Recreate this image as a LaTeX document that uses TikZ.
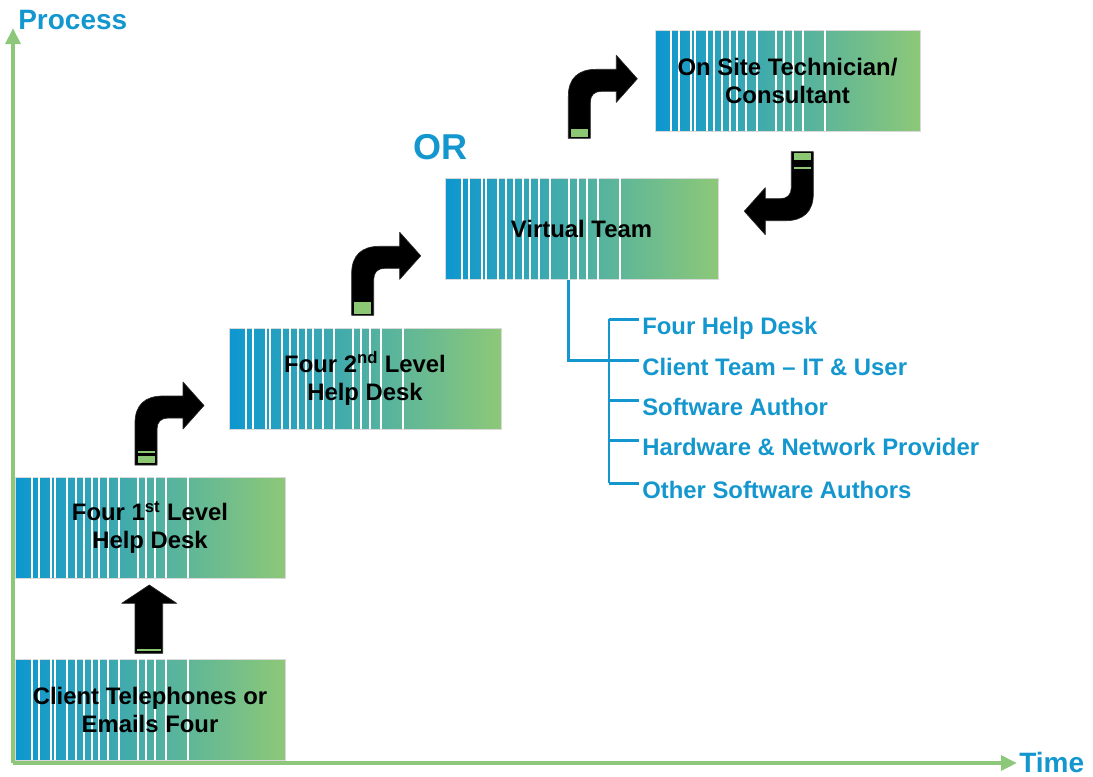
\documentclass[tikz,border=0pt]{standalone}
\usepackage{fontspec}
\setmainfont{Liberation Sans}
\usetikzlibrary{calc,arrows.meta}
\definecolor{cblue}{HTML}{1497CE}
\definecolor{bleft}{HTML}{0D97D0}
\definecolor{bright}{HTML}{8DC878}
\definecolor{axisgreen}{HTML}{8DC87A}
\definecolor{agreen}{HTML}{8CC873}
\tikzset{
  stepbox/.style={rectangle, inner sep=0pt, minimum width=#1*0.75pt, minimum height=75.75pt,
    left color=bleft, right color=bright, draw=gray!30, line width=0.4pt},
  gapline/.style={white, line width=1.5pt},
  boxtext/.style={font=\bfseries\fontsize{17.9}{21}\selectfont, align=center, text=black},
  listtext/.style={font=\bfseries\fontsize{17.9}{21}\selectfont, text=cblue, inner sep=0pt},
  axislabel/.style={font=\bfseries\fontsize{21}{25}\selectfont, text=cblue, inner sep=0pt},
  axisline/.style={axisgreen, line width=2.8pt, -{Triangle[length=12pt,width=11pt]}},
  tree/.style={cblue, line width=2.2pt},
  arrowfill/.style={fill=black, draw=black!85, line width=0.5pt, line join=round},
  greenmark/.style={fill=agreen},
  pics/bentarrow/.style={code={
    \filldraw[arrowfill] (0,0) -- (0,-42) .. controls (0,-60) and (10,-69) .. (28,-69)
      -- (48,-69) -- (48,-83) -- (69,-59.5) -- (48,-36) -- (48,-47) -- (33,-47)
      .. controls (26,-47) and (22,-43) .. (22,-36) -- (22,0) -- cycle;
  }}
}
\begin{document}
\begin{tikzpicture}[x=0.75pt,y=-0.75pt]
\useasboundingbox (0,0) rectangle (1093,776);

% axes
\coordinate (O) at (13,763);
\coordinate (ytop) at (13,28);
\node[axislabel, anchor=west] (proc) at (18,20) {Process};
\node[axislabel, anchor=west] (time) at (1019,762) {Time};
\draw[axisline] (O) -- (ytop);
\draw[axisline] (O) -- ([xshift=-1.5pt]time.west |- O);

% boxes
\node[stepbox=270] (b0) at (150,709.5) {};
\node[stepbox=270] (b1) at (150,527.5) {};
\node[stepbox=272] (b2) at (365,378.5) {};
\node[stepbox=273] (b3) at (581.5,229) {};
\node[stepbox=265] (b4) at (787.5,80.5) {};
\foreach \b in {b0,b1,b2,b3,b4}{
  \foreach \f in {0.062,0.09,0.135,0.15,0.195,0.225,0.255,0.285,0.31,0.345,0.385,0.455,0.487,0.52,0.56,0.64}{
    \draw[gapline] ($(\b.south west)!\f!(\b.south east)$) -- ($(\b.north west)!\f!(\b.north east)$);
  }
}
\node[boxtext] (t0) at (b0) {Client Telephones or\\Emails Four};
\node[boxtext] (t1) at (b1) {Four 1\textsuperscript{st} Level\\Help Desk};
\node[boxtext] (t2) at (b2) {Four 2\textsuperscript{nd} Level\\Help Desk};
\node[boxtext] (t3) at (b3) {Virtual Team};
\node[boxtext] (t4) at (b4) {On Site Technician/\\Consultant};

\node[font=\bfseries\fontsize{27}{30}\selectfont, text=cblue, inner sep=0pt] (or) at (440,147) {OR};

% straight arrow
\filldraw[arrowfill] (135,653.3) -- (135,603.3) -- (121.7,603.3) -- (149.3,585) -- (176.7,603.3)
  -- (162.7,603.3) -- (162.7,653.3) -- cycle;
\fill[greenmark] (137,649) rectangle (161,651.3);

% bent arrows
\begin{scope}[shift={(135,465)}]
  \pic {bentarrow};
  \fill[greenmark] (2.5,-14.5) rectangle (19.5,-12.3);
  \fill[greenmark] (2.5,-9.5) rectangle (19.5,-2.3);
\end{scope}
\begin{scope}[shift={(351.7,315.3)}]
  \pic {bentarrow};
  \fill[greenmark] (2.5,-13.3) rectangle (19.5,-1.5);
\end{scope}
\begin{scope}[shift={(568.3,138.3)}]
  \pic {bentarrow};
  \fill[greenmark] (2.5,-9.3) rectangle (19.5,-1.5);
\end{scope}
\begin{scope}[shift={(813.3,151.7)}, rotate=180]
  \pic[transform shape] {bentarrow};
  \fill[greenmark] (2.5,-8.3) rectangle (19.5,-1.2);
  \fill[greenmark] (2.5,-17.6) rectangle (19.5,-15.4);
\end{scope}

% virtual team members
\node[listtext, anchor=base west] (l1) at (642,334.3) {Four Help Desk};
\node[listtext, anchor=base west] (l2) at (642,375.7) {Client Team – IT \& User};
\node[listtext, anchor=base west] (l3) at (642,415.7) {Software Author};
\node[listtext, anchor=base west] (l4) at (642,455.7) {Hardware \& Network Provider};
\node[listtext, anchor=base west] (l5) at (642,498.3) {Other Software Authors};
\coordinate (vt) at ($(b3.south west)+(123.3,0)$);
\draw[tree] ($(l1.base west)+(-33,-15)$) -- ($(l5.base west)+(-33,-15)$);
\foreach \l in {l1,l2,l3,l4,l5}{
  \draw[tree] ($(\l.base west)+(-33,-15)$) -- ($(\l.base west)+(-3.5,-15)$);
}
\draw[tree] (vt) |- ($(l2.base west)+(-3.5,-15)$);
\end{tikzpicture}
\end{document}
